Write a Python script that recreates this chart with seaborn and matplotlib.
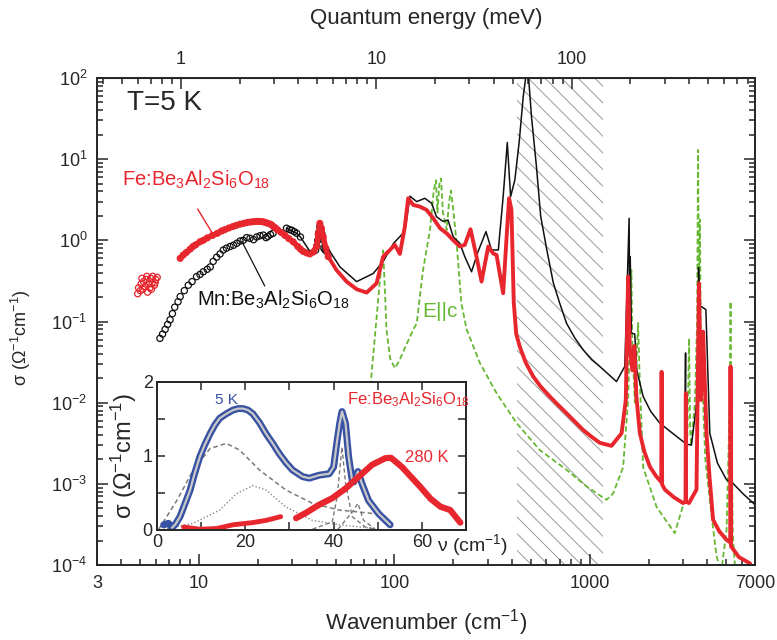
import numpy as np
import matplotlib
matplotlib.use("Agg")
import matplotlib.pyplot as plt
import seaborn as sns
from matplotlib.ticker import LogLocator, NullFormatter, MultipleLocator

# --- main panel: Fe beryl (thick red), circles part below ~46 cm-1
fe_circ_x = [8.0, 8.3, 8.6, 9.0, 9.3, 9.6, 10.1, 10.5, 11.0, 11.7, 12.4, 13.0, 13.5, 14.2, 14.9, 15.5,
             16.2, 16.9, 17.6, 18.3, 19.0, 19.7, 20.3, 21.0, 21.5, 22.2, 22.9, 23.5, 24.0, 24.6,
             25.2, 26.3, 27.5, 28.8, 30.3, 32.0, 33.0, 34.1, 35.5, 36.9, 38.5, 39.9, 40.7, 41.5,
             42.3, 43.2, 44.5, 45.8]
fe_circ_y = [0.60, 0.66, 0.71, 0.78, 0.84, 0.88, 0.96, 1.00, 1.07, 1.15, 1.22, 1.30, 1.35, 1.42, 1.48, 1.53,
             1.58, 1.62, 1.66, 1.68, 1.70, 1.71, 1.71, 1.70, 1.68, 1.64, 1.60, 1.55, 1.48, 1.42,
             1.35, 1.25, 1.15, 1.05, 0.96, 0.84, 0.78, 0.73, 0.70, 0.68, 0.72, 0.84, 1.20, 1.62,
             1.40, 1.10, 0.80, 0.63]

fe_low_x = [4.85, 4.9, 5.0, 5.05, 5.15, 5.2, 5.3, 5.35, 5.45, 5.5, 5.6, 5.65, 5.75, 5.8, 5.9, 6.0, 6.1,
            5.1, 5.4, 5.7, 5.95]
fe_low_y = [0.22, 0.26, 0.24, 0.29, 0.25, 0.31, 0.27, 0.33, 0.23, 0.29, 0.26, 0.34, 0.30, 0.36, 0.28, 0.33, 0.35,
            0.34, 0.36, 0.25, 0.30]

fe_x = [45.8, 50.5, 56.9, 64, 72, 81, 87.5, 94.7, 100.4, 106.6, 113, 117.5, 124.7, 135, 146, 158,
        171, 185, 200, 216, 229, 245, 263, 279, 302, 320, 333, 360, 375, 386, 397, 408, 420, 438,
        470, 513, 560, 624, 690, 760, 840, 925, 1020, 1125, 1291, 1454, 1528, 1570, 1600, 1650, 1690,
        1730, 1803, 1900, 2028, 2180, 2320, 2330, 2345, 2420, 2700, 3000, 3090, 3100, 3110, 3220,
        3515, 3620, 3700, 3800, 3955, 4100, 4275, 4600, 5010, 5230, 5250, 5280, 5800, 6590, 7000]
fe_y = [0.63, 0.43, 0.31, 0.25, 0.227, 0.296, 0.63, 0.76, 0.88, 0.68, 1.47, 3.3, 2.73, 2.6, 2.37, 1.87,
        1.41, 1.22, 1.0, 0.84, 0.88, 1.37, 0.63, 0.31, 0.84, 0.69, 0.66, 0.223, 1.1, 3.3, 2.37, 0.17, 0.07, 0.049,
        0.031, 0.021, 0.0158, 0.0119, 0.0093, 0.0074, 0.0058, 0.0046, 0.0038, 0.0032, 0.00294, 0.0042, 0.0108,
        0.357, 0.05, 0.025, 0.05, 0.012, 0.0042, 0.0025, 0.00163, 0.00125, 0.00105, 0.024, 0.00098, 0.00085,
        0.00068, 0.00058, 0.0006, 0.0131, 0.0006, 0.00058, 0.00085, 0.296, 0.0108, 0.075, 0.0042, 0.0012,
        0.00036, 0.00026, 0.000204, 0.00019, 0.0279, 0.00017, 0.000125, 0.000105, 0.00008]

# --- Mn beryl (thin black)
mn_circ_x = [6.3, 6.5, 6.7, 6.9, 7.1, 7.3, 7.5, 7.8, 8.0, 8.4, 8.8, 9.2, 9.7, 10.1, 10.5, 11.0, 11.4,
             11.8, 12.3, 12.8, 13.3, 13.8, 14.4, 15.0, 15.6, 16.2, 16.8, 17.5, 18.2, 19.0, 19.7, 20.5,
             21.3, 22.0, 22.5, 23.2, 23.9, 28, 29.0, 29.8, 30.7, 31.6, 33,
             39.5, 40.0, 40.5, 41.0, 41.5, 42.0, 42.5, 43.5, 44.2, 45]
mn_circ_y = [0.062, 0.07, 0.08, 0.092, 0.105, 0.125, 0.15, 0.175, 0.203, 0.24, 0.28, 0.31, 0.357, 0.38, 0.41,
             0.44, 0.47, 0.55, 0.62, 0.68, 0.76, 0.80, 0.84, 0.87, 0.92, 0.98, 1.0, 1.08, 1.06, 1.02, 1.1, 1.14,
             1.16, 1.08, 1.12, 1.18, 1.22, 1.41, 1.36, 1.33, 1.28, 1.22, 1.1,
             0.76, 0.85, 1.0, 1.25, 1.48, 1.38, 1.2, 0.8, 0.76, 0.73]

mn_x = [28, 31.6, 33, 36.9, 39.9, 41.5, 43.2, 46.7, 52.6, 64, 77.8, 87.5, 99, 110.5, 114, 120, 130,
        143, 155, 164, 177, 188, 200, 216, 229, 248, 268, 294, 314, 340, 360, 378, 393, 413, 435,
        456, 480, 503, 533, 560, 600, 650, 700, 760, 840, 925, 1020, 1125, 1369, 1510, 1589, 1600,
        1610, 1632, 1698, 1740, 1875, 2050, 2281, 2650, 3062, 3090, 3100, 3311, 3560, 3600, 3650,
        3726, 3926, 4112, 4500, 5010, 5300, 5310, 5320, 5390, 6100, 6860, 7000]
mn_y = [1.41, 1.22, 1.1, 0.73, 0.76, 1.48, 0.76, 0.73, 0.47, 0.31, 0.39, 0.55, 0.92, 1.22, 1.47, 3.5, 3.0,
        3.3, 2.86, 1.96, 1.71, 1.78, 1.1, 0.92, 0.63, 0.41, 0.73, 1.28, 0.76, 0.76, 3.46, 16, 3.46, 5.5, 16.4,
        59, 150, 33, 8.1, 2.0, 0.8, 0.3, 0.17, 0.095, 0.062, 0.0447, 0.034, 0.0279, 0.0182, 0.028, 1.87, 0.1,
        0.63, 0.072, 0.07, 0.025, 0.0119, 0.0078, 0.0056, 0.0042, 0.0032, 0.041, 0.0031, 0.003, 0.012, 0.46,
        0.15, 0.153, 0.14, 0.0042, 0.0018, 0.00112, 0.00105, 0.0158, 0.00104, 0.00102, 0.00075, 0.00058, 0.00055]

# --- E||c (green dashed)
ec_x = [74, 80, 84, 87.5, 89, 91, 95, 100.5, 106, 112, 125, 130, 140, 152, 159, 163, 166, 169.5, 173,
        177, 185, 190, 194.5, 200, 208, 220, 234, 274, 333, 422, 555, 760, 962, 1217, 1316, 1480,
        1570, 1610, 1632, 1650, 1700, 1766, 1800, 1875, 2195, 2720, 3062, 3160, 3220, 3260, 3300,
        3450, 3540, 3580, 3620, 3660, 3700, 3900, 4200, 4450, 4700, 5010, 5200, 5250, 5300, 5390, 5600]
ec_y = [0.01, 0.08, 0.3, 0.75, 0.3, 0.08, 0.035, 0.0266, 0.033, 0.045, 0.08, 0.095, 0.43, 1.34, 4.2, 5.5,
        2.2, 4.8, 5.8, 2.2, 1.34, 2.9, 4.1, 2.37, 0.92, 0.168, 0.08, 0.0306, 0.0131, 0.0056, 0.0026, 0.00149,
        0.00093, 0.000635, 0.00076, 0.0016, 0.0108, 0.1, 0.43, 0.05, 0.01, 0.096, 0.02, 0.0016, 0.00052,
        0.000247, 0.000635, 0.0042, 0.062, 0.005, 0.003, 0.01, 0.1, 13, 0.2, 1.8, 0.05, 0.002, 0.0004,
        0.00013, 0.00008, 0.00027, 0.01, 0.176, 0.01, 0.00025, 0.00006]

# opaque (hatched) window of the spectrum
opaque_lo, opaque_hi = 423, 1166

# --- inset: linear scale, Fe beryl
b5_x = [1.5, 2.6, 3.4, 4.2, 5.2, 6.3, 7.5, 8.6, 9.7, 10.8, 12.0, 13.1, 14.2, 15.7, 17.2, 18.4, 19.5,
        20.6, 21.7, 23.2, 24.7, 26.2, 27.7, 29.2, 30.7, 33.0, 34.5, 36.7, 39.0, 40.0, 40.8, 41.4,
        41.9, 42.7, 43.4, 44.2, 44.6, 45.5, 46.4, 47.9, 50.2, 52.8]
b5_y = [0.07, 0.09, 0.03, 0.08, 0.18, 0.35, 0.54, 0.78, 0.99, 1.15, 1.30, 1.42, 1.51, 1.57, 1.62, 1.64,
        1.64, 1.62, 1.57, 1.45, 1.30, 1.17, 1.03, 0.91, 0.81, 0.72, 0.70, 0.74, 0.76, 0.85, 1.21, 1.45,
        1.60, 1.44, 0.99, 0.67, 0.65, 0.79, 0.63, 0.40, 0.22, 0.07]

c1_x = [0.4, 4.5, 8.2, 12.0, 15.7, 18.7, 23.2, 29.2, 35.2, 41.2, 49.4]
c1_y = [0.01, 0.40, 0.81, 1.10, 1.17, 1.08, 0.81, 0.54, 0.36, 0.27, 0.22]
c2_x = [0.75, 8.2, 14.2, 18.0, 21.7, 24.7, 29.2, 35.2, 41.2, 49.4]
c2_y = [0.0, 0.09, 0.27, 0.49, 0.60, 0.54, 0.31, 0.13, 0.07, 0.02]
c3_x = [35.2, 39.7, 40.8, 41.9, 42.7, 44.2, 47.2, 49.4]
c3_y = [0.01, 0.11, 0.45, 1.12, 0.63, 0.18, 0.04, 0.01]
c4_x = [41.0, 44.6, 45.5, 46.8, 49.4]
c4_y = [0.01, 0.27, 0.36, 0.13, 0.01]

r280a_x = [6.0, 9.7, 13.5, 17.2, 21.7, 24.7, 28.0]
r280a_y = [0.04, 0.01, 0.02, 0.07, 0.10, 0.13, 0.18]
r280b_x = [31.5, 33.7, 36.7, 39.7, 42.7, 45.7, 48.7, 51.7, 53.0, 55.5, 57.5, 59.6, 62.0, 64.2, 66.4, 68.7]
r280b_y = [0.16, 0.23, 0.34, 0.43, 0.56, 0.72, 0.88, 0.97, 0.975, 0.85, 0.72, 0.585, 0.42, 0.315, 0.27, 0.10]

RED = "#e8262d"
GREEN = "#66b832"
BLUE = "#3852a3"
BLACK = "#111111"

sns.set_style("ticks")
plt.rcParams["font.family"] = ["Liberation Sans", "DejaVu Sans"]
plt.rcParams["mathtext.fontset"] = "custom"
plt.rcParams["mathtext.rm"] = "Liberation Sans"
plt.rcParams["mathtext.it"] = "Liberation Sans:italic"
plt.rcParams["mathtext.default"] = "regular"
plt.rcParams["hatch.linewidth"] = 0.7
plt.rcParams["hatch.color"] = "#999999"

fig = plt.figure(figsize=(7.77, 6.40), dpi=100)
ax = fig.add_axes([0.1248, 0.1172, 0.8468, 0.7609])
ax.set_xscale("log")
ax.set_yscale("log")

ax.axvspan(opaque_lo, opaque_hi, facecolor="none", edgecolor="#999999", hatch="\\\\", lw=0, zorder=0)

sns.lineplot(x=ec_x, y=ec_y, ax=ax, color=GREEN, lw=1.3, linestyle=(0, (3, 1.6)), sort=False, estimator=None)
sns.lineplot(x=mn_x, y=mn_y, ax=ax, color=BLACK, lw=1.1, sort=False, estimator=None)
sns.scatterplot(x=mn_circ_x, y=mn_circ_y, ax=ax, marker="o", s=20, facecolor="none", edgecolor=BLACK, linewidth=0.9)
sns.lineplot(x=fe_x, y=fe_y, ax=ax, color=RED, lw=2.8, sort=False, estimator=None)
sns.lineplot(x=fe_circ_x, y=fe_circ_y, ax=ax, color=RED, lw=4.0, sort=False, estimator=None)
sns.scatterplot(x=fe_circ_x, y=fe_circ_y, ax=ax, marker="o", s=18, facecolor="none", edgecolor=RED, linewidth=0.9)
sns.scatterplot(x=fe_low_x, y=fe_low_y, ax=ax, marker="o", s=20, facecolor="none", edgecolor=RED, linewidth=0.9)

ax.set_xlim(3, 7000)
ax.set_ylim(1e-4, 1e2)
ax.set_xticks([3, 10, 100, 1000, 7000])
ax.set_xticklabels(["3", "10", "100", "1000", "7000"])
ax.xaxis.set_minor_locator(LogLocator(base=10, subs=np.arange(2, 10) * 1.0, numticks=30))
ax.xaxis.set_minor_formatter(NullFormatter())
ax.set_yticks([1e-4, 1e-3, 1e-2, 1e-1, 1e0, 1e1, 1e2])
ax.yaxis.set_minor_locator(LogLocator(base=10, subs=np.arange(2, 10) * 1.0, numticks=30))
ax.yaxis.set_minor_formatter(NullFormatter())
ax.tick_params(which="both", direction="in", top=False, right=True, labelsize=13, width=1.1, pad=7)
ax.tick_params(which="major", length=8)
ax.tick_params(which="minor", length=4)
for s in ax.spines.values():
    s.set_linewidth(1.4)
ax.set_xlabel("Wavenumber (cm$^{-1}$)", fontsize=16, labelpad=11)
ax.set_ylabel("σ (Ω$^{-1}$cm$^{-1}$)", fontsize=13)
ax.yaxis.set_label_coords(-0.097, 0.466)

sec = ax.secondary_xaxis("top", functions=(lambda w: w * 0.12398, lambda e: e / 0.12398))
sec.set_xticks([1, 10, 100])
sec.set_xticklabels(["1", "10", "100"])
sec.xaxis.set_minor_locator(LogLocator(base=10, subs=np.arange(2, 10) * 1.0, numticks=30))
sec.xaxis.set_minor_formatter(NullFormatter())
sec.tick_params(which="both", direction="in", labelsize=13, width=1.1, pad=7)
sec.tick_params(which="major", length=8)
sec.tick_params(which="minor", length=4)
sec.set_xlabel("Quantum energy (meV)", fontsize=16, labelpad=20)

ax.text(0.046, 0.949, "T=5 K", transform=ax.transAxes, fontsize=20, va="center")
ax.text(0.038, 0.79, "Fe:Be$_3$Al$_2$Si$_6$O$_{18}$", transform=ax.transAxes, fontsize=14.5,
        color=RED, va="center")
ax.plot([0.153, 0.176], [0.731, 0.680], transform=ax.transAxes, color=RED, lw=1.0)
ax.text(0.152, 0.544, "Mn:Be$_3$Al$_2$Si$_6$O$_{18}$", transform=ax.transAxes, fontsize=14.5,
        color=BLACK, va="center")
ax.plot([0.220, 0.255], [0.665, 0.573], transform=ax.transAxes, color=BLACK, lw=0.9)
ax.text(0.494, 0.52, "E||c", transform=ax.transAxes, fontsize=15, color=GREEN, va="center")

# inset
ins = fig.add_axes([0.2021, 0.1719, 0.3977, 0.2313])
ins.set_facecolor("white")
sns.lineplot(x=c1_x, y=c1_y, ax=ins, color="#7a7a7a", lw=1.1, linestyle=(0, (3, 2)), sort=False, estimator=None)
sns.lineplot(x=c2_x, y=c2_y, ax=ins, color="#8a8a8a", lw=1.0, linestyle=(0, (1, 1.5)), sort=False, estimator=None)
sns.lineplot(x=c3_x, y=c3_y, ax=ins, color="#7a7a7a", lw=1.0, linestyle=(0, (3, 2)), sort=False, estimator=None)
sns.lineplot(x=c4_x, y=c4_y, ax=ins, color="#7a7a7a", lw=1.0, linestyle=(0, (3, 2)), sort=False, estimator=None)
sns.lineplot(x=b5_x, y=b5_y, ax=ins, color=BLUE, lw=5, sort=False, estimator=None)
sns.lineplot(x=b5_x[2:], y=b5_y[2:], ax=ins, color="#c8c8c8", lw=1.6, sort=False, estimator=None)
sns.lineplot(x=r280a_x, y=r280a_y, ax=ins, color=RED, lw=3.5, sort=False, estimator=None)
sns.lineplot(x=r280b_x, y=r280b_y, ax=ins, color=RED, lw=4.5, sort=False, estimator=None)
ins.set_xlim(0, 70)
ins.set_ylim(0, 2)
ins.set_xticks([0, 20, 40, 60])
ins.set_yticks([0, 1, 2])
ins.xaxis.set_minor_locator(MultipleLocator(10))
ins.yaxis.set_minor_locator(MultipleLocator(0.5))
ins.tick_params(which="both", direction="in", top=True, right=True, labelsize=13, width=1.1, pad=3)
ins.tick_params(which="major", length=6)
ins.tick_params(which="minor", length=6)
for s in ins.spines.values():
    s.set_linewidth(1.4)
ins.set_ylabel("σ (Ω$^{-1}$cm$^{-1}$)", fontsize=17)
ins.yaxis.set_label_coords(-0.058, 0.5)
ins.text(0.906, -0.105, "ν (cm$^{-1}$)", transform=ins.transAxes, fontsize=14, va="center", ha="left")
ins.text(0.188, 0.878, "5 K", transform=ins.transAxes, fontsize=11, color=BLUE, va="center")
ins.text(0.615, 0.878, "Fe:Be$_3$Al$_2$Si$_6$O$_{18}$", transform=ins.transAxes, fontsize=12,
         color=RED, va="center")
ins.text(0.803, 0.493, "280 K", transform=ins.transAxes, fontsize=12, color=RED, va="center")

fig.savefig("out.png", dpi=100)
